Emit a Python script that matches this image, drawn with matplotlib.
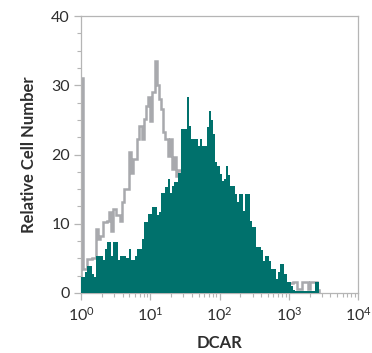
import matplotlib
matplotlib.use("Agg")
import matplotlib.pyplot as plt
import numpy as np
from matplotlib.ticker import LogLocator, FixedLocator, NullFormatter

# 128 log channels over 4 decades (10^0 .. 10^4)
n_bins = 128
decades = 4

# stained sample (filled teal), counts per channel
dcar = [2.3, 2.3, 3.0, 3.9, 3.9, 2.7, 2.3, 5.4, 5.4, 5.4,
        4.7, 6.3, 7.3, 7.3, 5.4, 7.3, 7.3, 4.7, 5.4, 5.4,
        5.4, 5.0, 6.3, 4.7, 4.7, 5.4, 6.3, 6.3, 7.8, 10.2,
        10.2, 11.4, 11.4, 12.4, 12.4, 11.2, 11.7, 14.5, 14.5, 15.3,
        16.4, 14.5, 15.5, 16.0, 16.0, 17.4, 23.7, 23.7, 23.7, 28.3,
        24.1, 22.2, 22.2, 22.2, 21.2, 22.2, 21.2, 21.2, 24.0, 26.3,
        25.0, 22.9, 18.9, 18.4, 17.2, 16.2, 16.5, 18.3, 17.0, 15.5,
        15.5, 14.3, 13.1, 14.3, 14.3, 11.8, 14.3, 14.3, 10.4, 9.5,
        9.5, 6.6, 6.6, 6.2, 4.6, 5.3, 5.3, 4.6, 3.5, 3.5,
        2.0, 3.0, 4.2, 4.2, 2.7, 1.6, 1.6, 1.0, 0.4, 0.3,
        0.3, 0.3, 0.3, 0.3, 0.3, 0.3, 0.3, 0.3, 1.6, 1.6]

# isotype control (grey outline)
isotype = [31.0, 3.5, 3.5, 4.9, 4.9, 5.1, 5.1, 9.2, 7.8, 8.3,
           10.2, 10.2, 10.4, 11.7, 8.9, 12.1, 11.2, 11.2, 10.4, 13.1,
           15.0, 15.0, 20.3, 17.4, 19.3, 19.3, 22.2, 24.1, 22.2, 25.1,
           27.0, 28.3, 24.9, 29.0, 33.5, 30.0, 28.0, 26.5, 23.2, 22.2,
           19.8, 22.2, 17.9, 19.6, 16.9, 17.7, 15.5, 14.0, 13.0, 12.0,
           11.0, 10.0, 9.0, 8.5, 8.0, 7.0, 6.5, 6.0, 5.5, 5.0,
           4.5, 4.0, 4.0, 3.5, 3.5, 3.0, 2.5, 2.5, 2.5, 2.5,
           2.0, 2.0, 2.0, 2.0, 2.0, 2.0, 2.0, 2.0, 2.0, 2.0,
           2.0, 1.5, 1.5, 1.5, 1.5, 1.5, 1.5, 1.5, 1.5, 1.5,
           1.5, 1.5, 1.5, 1.5, 1.5, 1.5, 1.5, 1.5, 1.6, 1.6,
           0.6, 0.6, 1.6, 1.6, 1.6, 0.6, 1.6, 1.6, 1.6, 0.5]

x_ticks = [1, 10, 100, 1000, 10000]
x_labels = ["$10^0$", "$10^1$", "$10^2$", "$10^3$", "$10^4$"]
y_ticks = [0, 10, 20, 30, 40]

teal = "#00716c"
grey = "#a8a9ad"
frame = "#b5b5b5"
text = "#2e2e2e"

plt.rcParams["font.family"] = ["Lato", "DejaVu Sans"]
plt.rcParams["mathtext.fontset"] = "custom"
plt.rcParams["mathtext.rm"] = "Lato"
plt.rcParams["mathtext.it"] = "Lato"

edges_all = np.logspace(0, decades, n_bins + 1)

fig = plt.figure(figsize=(3.72, 3.53), dpi=100)
ax = fig.add_axes([81 / 372, 1 - 293 / 353, 277 / 372, 277 / 353])

ax.stairs(isotype, edges_all[:len(isotype) + 1], fill=False, baseline=0,
          color=grey, linewidth=1.8, zorder=2)
ax.stairs(dcar, edges_all[:len(dcar) + 1], fill=True, baseline=0,
          color=teal, linewidth=0, zorder=3)

ax.set_xscale("log")
ax.set_xlim(1, 10000)
ax.set_ylim(0, 40)

ax.set_xticks(x_ticks)
ax.set_xticklabels(x_labels)
ax.xaxis.set_minor_locator(LogLocator(base=10, subs=np.arange(2, 10), numticks=20))
ax.xaxis.set_minor_formatter(NullFormatter())
ax.set_yticks(y_ticks)
ax.yaxis.set_minor_locator(FixedLocator(np.arange(0, 40.1, 2.5)))

for s in ax.spines.values():
    s.set_color(frame)
    s.set_linewidth(0.9)

ax.tick_params(which="major", length=5, width=0.9, color=frame,
               labelsize=11.5, labelcolor=text, pad=3)
ax.tick_params(which="minor", length=3, width=0.8, color=frame)
ax.tick_params(axis="x", which="major", pad=4)

ax.set_xlabel("DCAR", fontsize=12, fontweight="bold", color=text, labelpad=8)
ax.set_ylabel("Relative Cell Number", fontsize=12, fontweight="bold",
              color=text, labelpad=10)

fig.savefig("out.png", dpi=100)
